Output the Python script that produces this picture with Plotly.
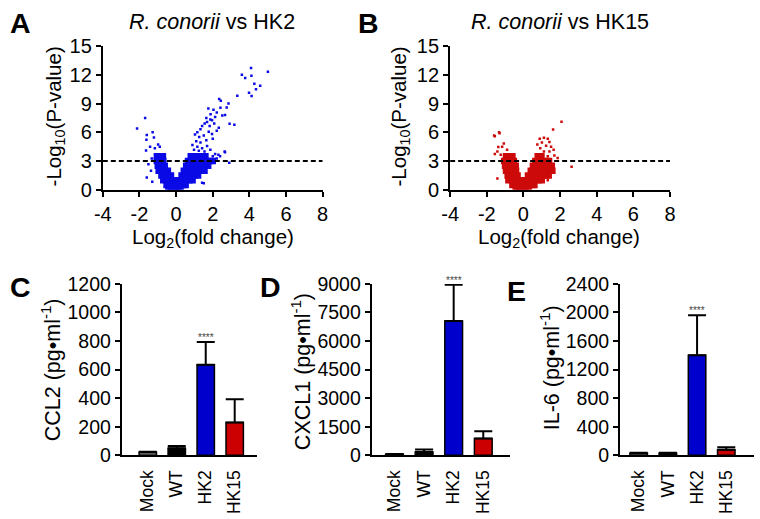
import plotly.graph_objects as go

W, H = 760, 519
FONT = "Liberation Sans, Arial, sans-serif"

# ---------------- Volcano A (R. conorii vs HK2) ----------------
# dense cloud: rows of estimated point positions (y level, x positions)
A_CORE_LEVELS = [3.5, 3.0, 2.5, 2.0, 1.5, 1.0, 0.5, 0.15]
A_CORE_X = [
    [-1.05, -0.88, -0.72, 0.8, 1.0, 1.2, 1.4, 1.6],
    [-1.05, -0.88, -0.7, 0.65, 0.85, 1.05, 1.25, 1.45, 1.65, 1.85, 2.0],
    [-1.0, -0.82, -0.62, 0.55, 0.75, 0.95, 1.15, 1.35, 1.55, 1.75],
    [-0.95, -0.78, -0.6, -0.45, 0.42, 0.6, 0.8, 1.0, 1.2, 1.4, 1.55],
    [-0.8, -0.62, -0.45, -0.28, 0.3, 0.48, 0.66, 0.84, 1.02, 1.2],
    [-0.7, -0.52, -0.35, -0.18, 0.0, 0.18, 0.36, 0.54, 0.72, 0.9],
    [-0.52, -0.35, -0.18, 0.0, 0.18, 0.36, 0.52],
    [-0.42, -0.25, -0.08, 0.08, 0.24],
]
a_out_x = [4.09, 5.01, 3.59, 3.77, 4.11, 4.27, 4.59, 4.36, 3.98, 4.12, 3.34, 2.35, 2.44,
           2.86, 2.42, 1.76, 2.04, 2.76, 2.22, 1.88, 2.52, 2.67, 2.13, 1.65, 1.87, 2.92,
           3.18, 2.33, 2.65, 2.4, 2.9, 1.51, 1.03, 1.16, 1.33, 1.42, 1.56, 1.69, 1.26,
           1.51, 1.10, 1.33, 1.65, 0.89, 1.16, 1.42, 1.69, 0.98, 1.24, 1.55, 1.87, 2.13,
           2.0, 1.78, 1.96, 1.83, 1.96, 2.08, 2.22, 2.0, 2.31, 2.67, 2.22, 1.42,
           -1.69, -2.13, -1.28, -1.6, -1.62, -1.21, -1.42, -0.98, -1.64, -1.16, -0.89,
           -1.33, -1.51, -1.6, -1.37, -1.3]
a_out_y = [12.73, 12.33, 12.0, 11.67, 11.9, 11.07, 10.87, 10.5, 10.13, 9.8, 9.83, 9.47, 9.3,
           9.0, 8.57, 8.5, 8.37, 8.6, 8.07, 7.9, 7.77, 7.8, 7.6, 7.5, 7.33, 6.9,
           6.8, 6.47, 4.0, 3.5, 2.83, 0.67, 5.77, 6.0, 6.33, 6.67, 6.93, 7.07, 5.5,
           5.67, 5.07, 4.93, 5.17, 4.67, 4.5, 4.33, 4.57, 4.17, 4.07, 4.0, 4.17, 3.73,
           3.5, 6.07, 5.83, 6.67, 7.27, 6.93, 6.17, 5.33, 3.67, 3.93, 3.27, 0.73,
           7.5, 6.4, 6.0, 5.73, 5.23, 5.47, 4.5, 4.73, 4.1, 4.33, 4.5,
           3.27, 2.67, 1.27, 2.0, 0.83]

# ---------------- Volcano B (R. conorii vs HK15) ----------------
B_CORE_LEVELS = [3.5, 3.0, 2.5, 2.0, 1.5, 1.0, 0.5, 0.15]
B_CORE_X = [
    [-0.95, -0.78, -0.6, 0.78, 0.98],
    [-1.05, -0.88, -0.7, -0.52, 0.65, 0.85, 1.05, 1.25, 1.4],
    [-1.0, -0.82, -0.62, -0.42, 0.52, 0.72, 0.92, 1.12, 1.32, 1.55],
    [-0.95, -0.78, -0.6, -0.4, 0.4, 0.6, 0.8, 1.0, 1.2, 1.4, 1.58],
    [-0.86, -0.68, -0.5, -0.32, 0.25, 0.45, 0.65, 0.85, 1.05, 1.25, 1.38],
    [-0.82, -0.64, -0.46, -0.28, -0.1, 0.1, 0.28, 0.46, 0.64, 0.82, 1.0],
    [-0.6, -0.42, -0.24, -0.06, 0.12, 0.3, 0.48, 0.6],
    [-0.42, -0.25, -0.08, 0.1, 0.28],
]
b_out_x = [2.08, 1.62, -1.3, -1.56, 0.89, 1.12, 1.33, 1.42, 1.01, 0.76, 1.24, 1.51, 0.92,
           1.12, 1.42, 1.65, 1.07, 1.33, 1.69, -1.16, -1.37, -1.07, -1.42, -1.56, -1.24,
           -0.89, 2.63, -1.42, 1.33, 1.87, -1.33, -1.6]
b_out_y = [7.1, 6.3, 5.9, 5.6, 5.33, 5.43, 5.33, 5.0, 4.93, 4.73, 4.6, 4.5, 4.33,
           4.0, 4.0, 4.17, 3.6, 3.5, 3.57, 4.5, 4.47, 4.83, 4.0, 3.73, 3.67,
           4.17, 2.4, 1.17, 1.0, 3.33, 6.0, 5.67]

P_THRESHOLD = 3  # -log10 cut-off line
VOL_X_TICKS = [-4, -2, 0, 2, 4, 6, 8]
VOL_X_TICKTEXT = ["-4", "-2", "0", "2", "4", "6", "8"]

# ---------------- Cytokine bars ----------------
categories = ["Mock", "WT", "HK2", "HK15"]
bar_colors = ["#808080", "#000000", "#0000CC", "#CC0000"]
ccl2_mean = [22, 50, 635, 230]
ccl2_sd = [3, 15, 158, 162]
cxcl1_mean = [60, 170, 7050, 880]
cxcl1_sd = [10, 130, 1900, 380]
il6_mean = [30, 30, 1400, 78]
il6_sd = [5, 5, 560, 34]


def flatten(levels, rows):
    xs, ys = [], []
    for lv, row in zip(levels, rows):
        xs += row
        ys += [lv] * len(row)
    return xs, ys


def px(x):
    return x / W


def py(y):
    return 1 - y / H


fig = go.Figure()

for (levels, rows, ox, oy, col, ax) in [
    (A_CORE_LEVELS, A_CORE_X, a_out_x, a_out_y, "#0A0AE6", ""),
    (B_CORE_LEVELS, B_CORE_X, b_out_x, b_out_y, "#CC0A0A", "2"),
]:
    cx, cy = flatten(levels, rows)
    fig.add_trace(go.Scatter(x=cx, y=cy, mode="markers", xaxis="x" + ax, yaxis="y" + ax,
                             marker=dict(color=col, size=6.5, symbol="square", line_width=0),
                             showlegend=False, hoverinfo="skip"))
    fig.add_trace(go.Scatter(x=ox, y=oy, mode="markers", xaxis="x" + ax, yaxis="y" + ax,
                             marker=dict(color=col, size=2.5, symbol="square", line_width=0),
                             showlegend=False, hoverinfo="skip"))
    fig.add_shape(type="line", xref="x" + ax, yref="y" + ax, x0=-4, x1=8,
                  y0=P_THRESHOLD, y1=P_THRESHOLD,
                  line=dict(color="black", width=2, dash="5px,3px"))

for i, (mean, sd) in enumerate([(ccl2_mean, ccl2_sd), (cxcl1_mean, cxcl1_sd), (il6_mean, il6_sd)]):
    n = str(i + 3)
    fig.add_trace(go.Bar(x=categories, y=mean, xaxis="x" + n, yaxis="y" + n, width=0.6,
                         marker=dict(color=bar_colors, line=dict(color="black", width=1.5)),
                         error_y=dict(type="data", array=sd, arrayminus=[0] * 4, symmetric=False,
                                      color="black", thickness=2, width=9),
                         showlegend=False, hoverinfo="skip"))
    fig.add_annotation(x="HK2", y=mean[2] + sd[2], xref="x" + n, yref="y" + n,
                       text="****", showarrow=False, yanchor="bottom", yshift=-3,
                       font=dict(size=10, color="#444444", family=FONT))

axis_common = dict(showline=True, linecolor="black", linewidth=2, showgrid=False,
                   zeroline=False, ticks="outside", ticklen=5, tickwidth=2, tickcolor="black",
                   tickfont=dict(size=20, color="black", family=FONT))

layout = dict(width=W, height=H, margin=dict(l=0, r=0, t=0, b=0),
              plot_bgcolor="white", paper_bgcolor="white", font=dict(family=FONT, color="black"))

# volcano axes
vol_dom = {"": [95.7, 320], "2": [450, 674.3]}
for ax, (x0, x1) in vol_dom.items():
    layout["xaxis" + ax] = dict(axis_common, domain=[px(x0), px(x1)], range=[-4, 8],
                                tickvals=VOL_X_TICKS, ticktext=VOL_X_TICKTEXT, anchor="y" + ax)
    layout["yaxis" + ax] = dict(axis_common, domain=[py(186.7), py(36.7)], range=[0, 15], dtick=3,
                                anchor="x" + ax)

bar_dom = {"3": ([115, 253], [-0.9, 3.77], 1200, 200),
           "4": ([370, 511], [-0.77, 3.9], 9000, 1500),
           "5": ([623.3, 760], [-0.64, 3.95], 2400, 400)}
for ax, ((x0, x1), xr, ymax, dt) in bar_dom.items():
    layout["xaxis" + ax] = dict(axis_common, domain=[px(x0), px(x1)], range=xr, ticks="",
                                tickangle=-90, ticklabelstandoff=6,
                                tickfont=dict(size=17.5, color="black", family=FONT),
                                anchor="y" + ax, type="category")
    layout["yaxis" + ax] = dict(axis_common, domain=[py(464), py(285)], range=[0, ymax], dtick=dt,
                                tickfont=dict(size=19.5, color="black", family=FONT),
                                anchor="x" + ax)

fig.update_layout(**layout)


def label(text, x, y, size, angle=0, bold=False):
    fig.add_annotation(x=px(x), y=py(y), xref="paper", yref="paper", text=text, showarrow=False,
                       xanchor="center", yanchor="middle", textangle=angle,
                       font=dict(size=size, color="black", family=FONT,
                                 weight="bold" if bold else "normal"))


# panel letters
for t, x, y in [("A", 12, 13), ("B", 367, 13), ("C", 12, 288), ("D", 267, 288), ("E", 518, 292)]:
    label(t, x, y, 28.5, bold=True)

# titles
label("<i>R. conorii</i> vs HK2", 207.5, 11, 21.5)
label("<i>R. conorii</i> vs HK15", 562.5, 11, 21.5)
# volcano axis titles
label("-Log<sub>10</sub>(P-value)", 47, 110, 20.5, angle=-90)
label("-Log<sub>10</sub>(P-value)", 399, 110, 20.5, angle=-90)
label("Log<sub>2</sub>(fold change)", 208, 237, 20.5)
label("Log<sub>2</sub>(fold change)", 561.5, 237, 20.5)
# bar y titles
label("CCL2 (pg•ml<sup>-1</sup>)", 43, 375, 21.5, angle=-90)
label("CXCL1 (pg•ml<sup>-1</sup>)", 298, 377, 21.5, angle=-90)
label("IL-6 (pg•ml<sup>-1</sup>)", 552, 373, 21.5, angle=-90)

fig.write_html("out.html")
